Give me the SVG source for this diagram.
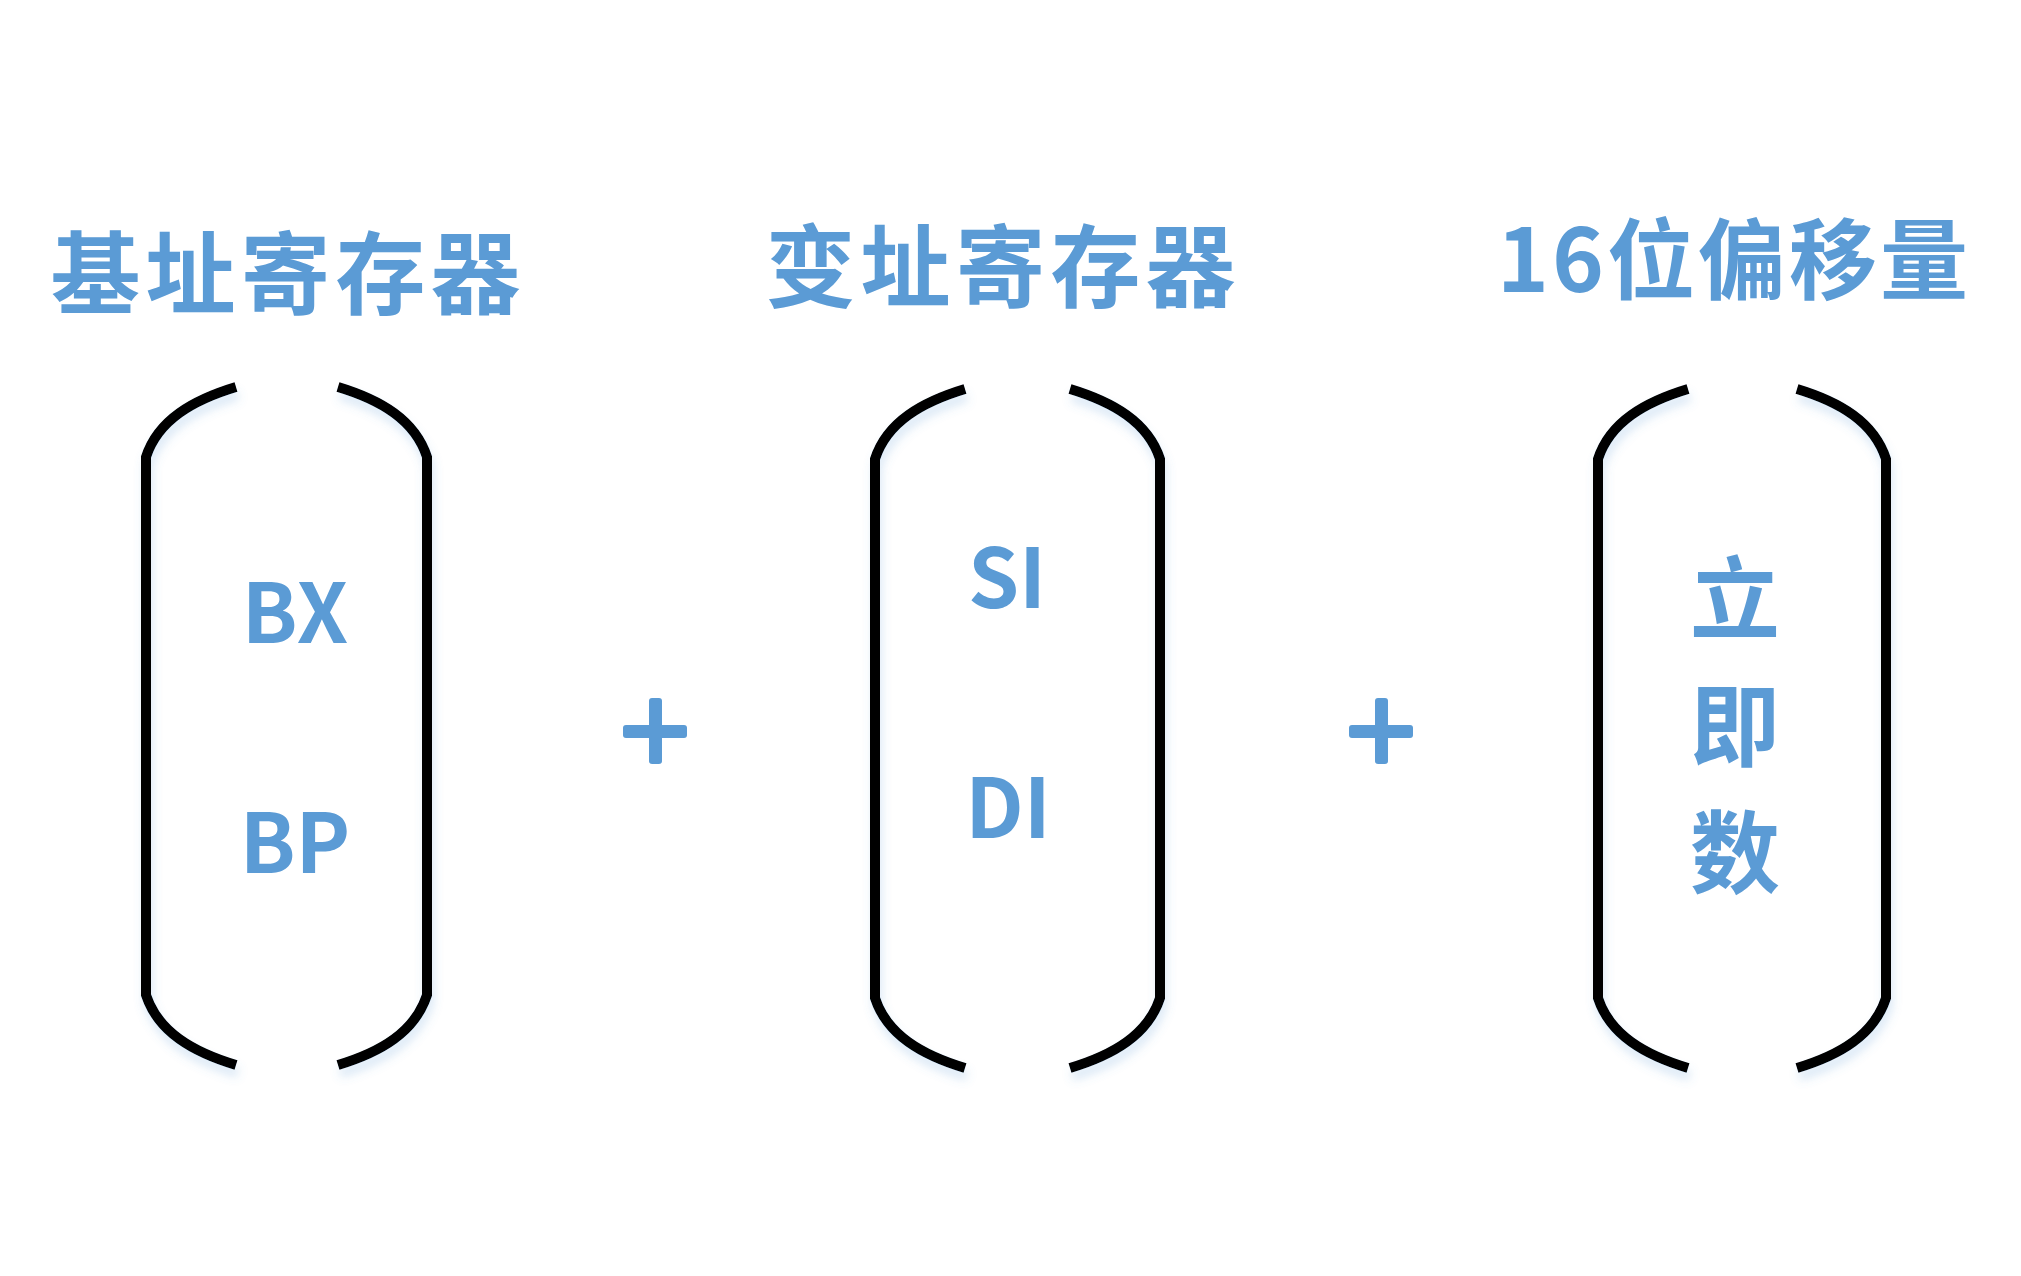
<svg xmlns="http://www.w3.org/2000/svg" width="2021" height="1276" viewBox="0 0 2021 1276">
<style>
.t{font-family:"Noto Sans CJK SC","Noto Sans",sans-serif;font-weight:bold;fill:#5B9BD5;text-anchor:middle}
.title{font-size:90px;letter-spacing:5px}
.title3{font-size:88px;letter-spacing:3px}
.lab{font-size:82px}
.cj{font-size:90px}
.ln{fill:none;stroke:#000;stroke-width:10;stroke-linejoin:miter;stroke-linecap:butt;filter:url(#glow)}
.plus{fill:#5B9BD5}
</style>
<defs>
<filter id="glow" x="-20%" y="-20%" width="140%" height="140%">
<feDropShadow dx="2" dy="8" stdDeviation="5" flood-color="#5B9BD5" flood-opacity="0.22"/>
</filter>
</defs>
<rect width="2021" height="1276" fill="#fff"/>
<g id="title-base"><text class="t title" x="288" y="307">基址寄存器</text></g>
<g id="title-index"><text class="t title" x="1003" y="300">变址寄存器</text></g>
<g id="title-offset"><text class="t title3" x="1734" y="292">16位偏移量</text></g>
<g id="bracket-base">
<path class="ln" d="M236,387 C193,400 158,420 146,457 L146,995 C158,1032 193,1052 236,1065"/>
<path class="ln" d="M338,387 C381,400 415,420 427,457 L427,995 C415,1032 381,1052 338,1065"/>
<text class="t lab" x="295" y="643">BX</text>
<text class="t lab" x="295" y="873">BP</text>
</g>
<g id="bracket-index">
<path class="ln" d="M965,389 C922,402 887,422 875,459 L875,998 C887,1035 922,1055 965,1068"/>
<path class="ln" d="M1070,389 C1113,402 1148,422 1160,459 L1160,998 C1148,1035 1113,1055 1070,1068"/>
<text class="t lab" x="1007" y="608">SI</text>
<text class="t lab" x="1008" y="838">DI</text>
</g>
<g id="bracket-offset">
<path class="ln" d="M1688,389 C1645,402 1610,422 1598,459 L1598,998 C1610,1035 1645,1055 1688,1068"/>
<path class="ln" d="M1797,389 C1840,402 1874,422 1886,459 L1886,998 C1874,1035 1840,1055 1797,1068"/>
<text class="t cj" x="1735" y="632">立</text>
<text class="t cj" x="1735" y="759">即</text>
<text class="t cj" x="1735" y="886">数</text>
</g>
<g id="plus-1" class="plus">
<rect x="623" y="725" width="64" height="13" rx="3"/>
<rect x="649" y="698" width="13" height="66" rx="3"/>
</g>
<g id="plus-2" class="plus">
<rect x="1349" y="725" width="64" height="13" rx="3"/>
<rect x="1375" y="698" width="13" height="66" rx="3"/>
</g>
<g id="connectors">
<path class="ln" d="M63,727 H146"/>
<path class="ln" d="M427,726 H512"/>
<path class="ln" d="M791,730 H875"/>
<path class="ln" d="M1160,730 H1243"/>
<path class="ln" d="M1513,730 H1598"/>
<path class="ln" d="M1886,730 H1970"/>
</g>
</svg>
